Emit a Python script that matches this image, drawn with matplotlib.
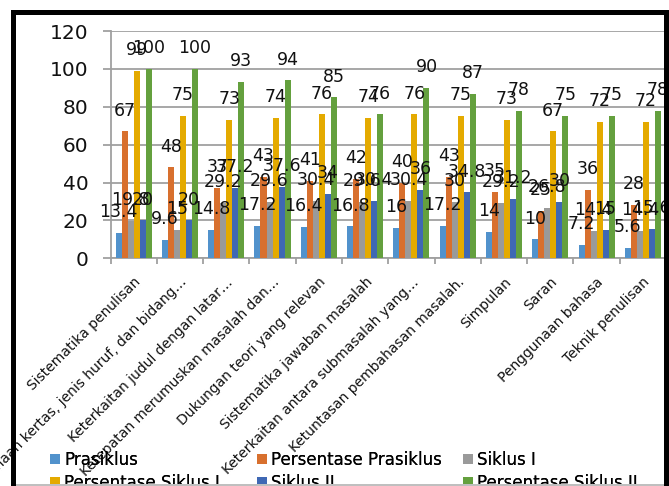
import matplotlib
matplotlib.use("Agg")
import matplotlib.pyplot as plt
from matplotlib.patches import Rectangle
import numpy as np

categories = [
    "Sistematika penulisan",
    "Penggunaan kertas, jenis huruf, dan bidang…",
    "Keterkaitan judul dengan latar…",
    "Ketepatan merumuskan masalah dan…",
    "Dukungan teori yang relevan",
    "Sistematika jawaban masalah",
    "Keterkaitan antara submasalah yang…",
    "Ketuntasan pembahasan masalah.",
    "Simpulan",
    "Saran",
    "Penggunaan bahasa",
    "Teknik penulisan",
]
prasiklus = [13.4, 9.6, 14.8, 17.2, 16.4, 16.8, 16, 17.2, 14, 10, 7.2, 5.6]
persen_prasiklus = [67, 48, 37, 43, 41, 42, 40, 43, 35, 25, 36, 28]
siklus1 = [19.8, 15, 29.2, 29.6, 30.4, 29.6, 30.4, 30, 29.2, 26.8, 14.4, 14.4]
persen_siklus1 = [99, 75, 73, 74, 76, 74, 76, 75, 73, 67, 72, 72]
siklus2 = [20, 20, 37.2, 37.6, 34, 30.4, 36, 34.8, 31.2, 30, 15, 15.6]
persen_siklus2 = [100, 100, 93, 94, 85, 76, 90, 87, 78, 75, 75, 78]

series_names = ["Prasiklus", "Persentase Prasiklus", "Siklus I",
                "Persentase Siklus I", "Siklus II", "Persentase Siklus II"]
series_vals = [prasiklus, persen_prasiklus, siklus1, persen_siklus1, siklus2, persen_siklus2]
colors = ["#5192CC", "#D8702E", "#9A9A9A", "#E4AA00", "#3F68B4", "#64A03E"]

W, H = 669, 486
fig = plt.figure(figsize=(W / 100, H / 100), dpi=100)
ax = fig.add_axes([110.5 / W, 1 - 258.3 / H, (666 - 110.5) / W, (258.3 - 31.1) / H])

x = np.arange(len(categories))
bw = 0.13
handles = []
for i, (name, vals, c) in enumerate(zip(series_names, series_vals, colors)):
    bars = ax.bar(x + (i - 2.5) * bw, vals, bw, color=c, label=name, zorder=3, linewidth=0)
    handles.append(bars)
    ax.bar_label(bars, labels=[f"{v:g}" for v in vals], padding=8.5,
                 fontsize=12.5, family="DejaVu Sans", color="#111111", zorder=5)

ax.set_xlim(-0.5, len(categories) - 0.5)
ax.set_ylim(0, 120)
ax.set_yticks(np.arange(0, 121, 20))
ax.yaxis.grid(True, color="#A0A0A0", linewidth=1.3, zorder=0)
ax.set_axisbelow(True)
for s in ["top", "right"]:
    ax.spines[s].set_visible(False)
ax.spines["left"].set_color("#A0A0A0")
ax.spines["left"].set_linewidth(1.3)
ax.spines["bottom"].set_color("#A0A0A0")
ax.spines["bottom"].set_linewidth(1.3)
ax.tick_params(axis="y", length=6, width=1.3, color="#A0A0A0", pad=10,
               labelsize=14.5, labelcolor="#111111")
ax.set_yticklabels([str(v) for v in range(0, 121, 20)], family="DejaVu Sans")

ax.set_xticks(x)
ax.set_xticks(np.arange(-0.5, len(categories), 1), minor=True)
ax.tick_params(axis="x", which="major", length=0, pad=12)
ax.tick_params(axis="x", which="minor", length=4, width=1.3, color="#A0A0A0")
ax.set_xticklabels(categories, rotation=45, ha="right", rotation_mode="anchor",
                   fontsize=10, family="DejaVu Sans", color="#111111")

# legend: three columns placed individually
col_x = [50, 257, 463]
order = [[0, 3], [1, 4], [2, 5]]
for cx, idx in zip(col_x, order):
    leg = fig.legend([handles[k] for k in idx], [series_names[k] for k in idx],
                     loc="upper left", bbox_to_anchor=(cx / W, 1 - 451 / H),
                     frameon=False, ncol=1, handlelength=0.6,
                     handleheight=0.6, handletextpad=0.25, labelspacing=0.28,
                     borderpad=0, borderaxespad=0, prop={"family": "DejaVu Sans", "size": 12})
    fig.add_artist(leg)

# frame (black border of the screenshot)
def px_rect(x0, y0, x1, y1, color):
    fig.add_artist(Rectangle((x0 / W, 1 - y1 / H), (x1 - x0) / W, (y1 - y0) / H,
                             transform=fig.transFigure, color=color, zorder=20, linewidth=0))

px_rect(16, 484, 664, 486, "#BFBFBF")
px_rect(11, 10, 16, 486, "black")
px_rect(11, 10, 669, 15, "black")
px_rect(664, 10, 669, 486, "black")

fig.savefig("out.png", dpi=100)
